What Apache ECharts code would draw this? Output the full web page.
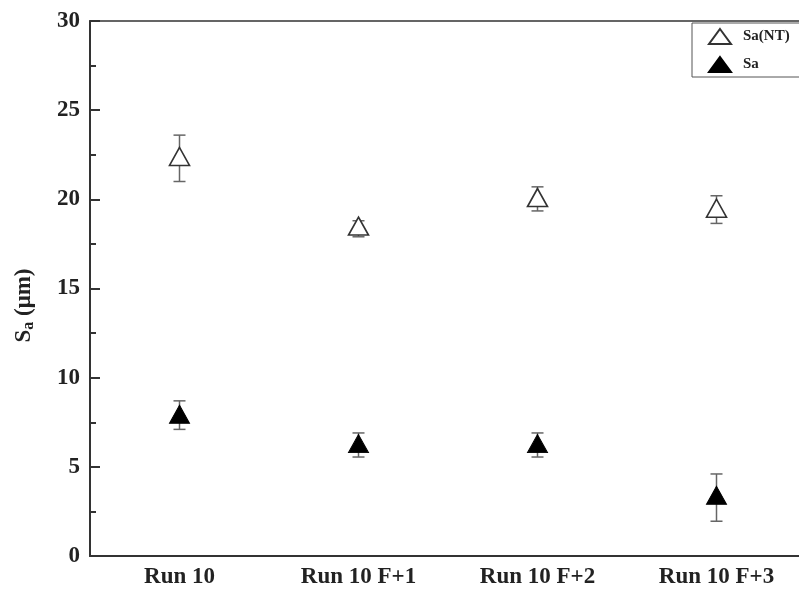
<!DOCTYPE html>
<html><head><meta charset="utf-8">
<script src="https://cdn.jsdelivr.net/npm/echarts@6/dist/echarts.min.js"></script>
<style>html,body{margin:0;padding:0;background:#fff}#c{width:799px;height:590px}</style>
</head><body><div id="c"></div>
<script>
const categories = ['Run 10', 'Run 10 F+1', 'Run 10 F+2', 'Run 10 F+3'];
const saNT = [22.4, 18.5, 20.1, 19.5];
const saNTUpper = [23.6, 18.8, 20.7, 20.2];
const saNTLower = [21.0, 17.9, 19.35, 18.65];
const sa = [7.95, 6.3, 6.3, 3.4];
const saUpper = [8.7, 6.9, 6.9, 4.6];
const saLower = [7.1, 5.55, 5.55, 1.95];
const yTicks = [0, 5, 10, 15, 20, 25, 30];

const FONT = '"Liberation Serif", "DejaVu Serif", serif';
const chart = echarts.init(document.getElementById('c'), null, {renderer: 'canvas'});

function errSeries(up, lo) {
  return {
    type: 'custom',
    silent: true,
    z: 1,
    data: up.map((u, i) => [i, u, lo[i]]),
    renderItem: function (params, api) {
      const x = api.value(0);
      const pu = api.coord([x, api.value(1)]);
      const pl = api.coord([x, api.value(2)]);
      const hw = 6;
      const st = {stroke: '#666', lineWidth: 1.5};
      return {type: 'group', children: [
        {type: 'line', shape: {x1: pu[0], y1: pu[1], x2: pl[0], y2: pl[1]}, style: st},
        {type: 'line', shape: {x1: pu[0] - hw, y1: pu[1], x2: pu[0] + hw, y2: pu[1]}, style: st},
        {type: 'line', shape: {x1: pl[0] - hw, y1: pl[1], x2: pl[0] + hw, y2: pl[1]}, style: st}
      ]};
    }
  };
}

chart.setOption({
  animation: false,
  backgroundColor: '#fff',
  grid: {left: 90, top: 21, right: -7, bottom: 34, outerBoundsMode: 'none', containLabel: false,
    show: true, borderColor: '#333', borderWidth: 1.5, backgroundColor: 'transparent'},
  legend: {
    left: 692, top: 23, orient: 'vertical',
    backgroundColor: '#fff',
    borderColor: '#555', borderWidth: 1,
    padding: [5, 60, 4, 16],
    itemWidth: 22, itemHeight: 15, itemGap: 11,
    textStyle: {fontFamily: FONT, fontWeight: 'bold', fontSize: 15, color: '#222', padding: [0, 0, 0, 7]},
    data: [{name: 'Sa(NT)', icon: 'triangle'}, {name: 'Sa', icon: 'triangle'}]
  },
  xAxis: {
    type: 'category',
    data: categories,
    boundaryGap: true,
    axisLine: {lineStyle: {color: '#333', width: 2}},
    axisTick: {alignWithLabel: true, inside: true, length: 10, lineStyle: {color: '#333', width: 2}},
    axisLabel: {fontFamily: FONT, fontWeight: 'bold', fontSize: 23, color: '#222', margin: 10},
    splitLine: {show: false}
  },
  yAxis: {
    type: 'value', min: 0, max: 30, interval: 5,
    name: '{m|S}{s|a}{m| (μm)}',
    nameLocation: 'middle', nameGap: 53, nameRotate: 90,
    nameTextStyle: {padding: [0, 34, 0, 0], rich: {
      m: {fontFamily: FONT, fontWeight: 'bold', fontSize: 23, color: '#222'},
      s: {fontFamily: FONT, fontWeight: 'bold', fontSize: 16, color: '#222', verticalAlign: 'bottom', padding: [9, 0, 0, 0]}
    }},
    axisLine: {show: true, lineStyle: {color: '#333', width: 2}},
    axisTick: {show: true, inside: true, length: 10, lineStyle: {color: '#333', width: 2}},
    minorTick: {show: true, splitNumber: 2, length: 6, lineStyle: {color: '#333', width: 2}},
    axisLabel: {fontFamily: FONT, fontWeight: 'bold', fontSize: 23, color: '#222', margin: 10,
      formatter: v => yTicks.includes(v) ? String(v) : ''},
    splitLine: {show: false}
  },
  series: [
    errSeries(saNTUpper, saNTLower),
    errSeries(saUpper, saLower),
    {
      name: 'Sa(NT)', type: 'scatter', data: saNT, z: 3,
      symbol: 'triangle', symbolSize: [20, 18],
      itemStyle: {color: '#fff', borderColor: '#333', borderWidth: 1.6, opacity: 1}
    },
    {
      name: 'Sa', type: 'scatter', data: sa, z: 3,
      symbol: 'triangle', symbolSize: [20, 18],
      itemStyle: {color: '#000', borderColor: '#000', borderWidth: 1, opacity: 1}
    }
  ]
});
</script></body></html>
